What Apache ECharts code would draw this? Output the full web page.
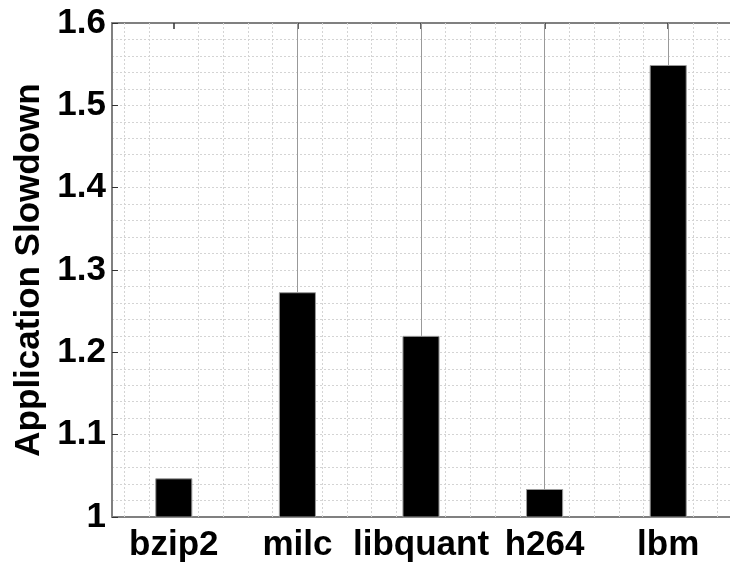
<!DOCTYPE html>
<html>
<head>
<meta charset="utf-8">
<script src="https://cdn.jsdelivr.net/npm/echarts@6/dist/echarts.min.js"></script>
<style>
html,body{margin:0;padding:0;background:#fff;}
#chart{width:730px;height:564px;}
</style>
</head>
<body>
<div id="chart"></div>
<script>
// ---- data ----
const categories = ['bzip2', 'milc', 'libquant', 'h264', 'lbm'];
const slowdown = [1.047, 1.273, 1.22, 1.034, 1.549];
const hasWhisker = [false, true, true, true, true];
const yTicks = [1, 1.1, 1.2, 1.3, 1.4, 1.5, 1.6];

const FONT = '"Liberation Sans", Arial, sans-serif';
const yMin = yTicks[0], yMax = yTicks[yTicks.length - 1];

// minor vertical grid positions (every 0.2 category units, excluding category centers)
const minorX = [];
for (let k = 3; k <= 27; k++) {
  if (k % 5 !== 0) minorX.push(k / 5);
}

const whiskers = [];
categories.forEach((c, i) => {
  if (hasWhisker[i]) {
    whiskers.push([{ coord: [c, slowdown[i]] }, { coord: [c, yMax] }]);
  }
});

const dotted = { color: '#d4d4d4', width: 1, type: [2, 2] };

const chart = echarts.init(document.getElementById('chart'), null, { renderer: 'canvas' });
chart.setOption({
  animation: false,
  backgroundColor: '#fff',
  grid: { left: 112, top: 23, width: 625, height: 494, containLabel: false },
  xAxis: [
    {
      type: 'category', data: categories, position: 'bottom',
      axisLine: { lineStyle: { color: '#808080', width: 2 } },
      axisTick: { show: true, inside: true, alignWithLabel: true, length: 6, lineStyle: { color: '#333' } },
      axisLabel: { color: '#000', fontFamily: FONT, fontWeight: 'bold', fontSize: 35, margin: 11, interval: 0, hideOverlap: false },
      splitLine: { show: false }
    },
    {
      type: 'category', data: categories, position: 'top',
      axisLine: { onZero: false, lineStyle: { color: '#808080', width: 2 } },
      axisTick: { show: true, inside: true, alignWithLabel: true, length: 6, lineStyle: { color: '#333', width: 1.5 } },
      axisLabel: { show: false },
      splitLine: { show: false }
    },
    {
      type: 'value', min: 0.5, max: 5.5, show: false
    }
  ],
  yAxis: {
    type: 'value', min: yMin, max: yMax, interval: 0.1,
    axisLine: { show: true, lineStyle: { color: '#808080', width: 2 } },
    axisTick: { show: true, inside: true, length: 6, lineStyle: { color: '#333' } },
    axisLabel: { color: '#000', fontFamily: FONT, fontWeight: 'bold', fontSize: 35, margin: 6,
      formatter: v => String(Math.round(v * 10) / 10) },
    splitLine: { show: true, lineStyle: dotted },
    minorTick: { show: false, splitNumber: 5 },
    minorSplitLine: { show: true, lineStyle: dotted },
    name: 'Application Slowdown', nameLocation: 'middle', nameRotate: 90, nameGap: 64,
    nameTextStyle: { color: '#000', fontFamily: FONT, fontWeight: 'bold', fontSize: 35 }
  },
  series: [
    {
      type: 'line', xAxisIndex: 2, data: [[0.5, yMin]], showSymbol: false, silent: true,
      lineStyle: { opacity: 0 }, z: 1,
      markLine: {
        silent: true, symbol: 'none', label: { show: false },
        lineStyle: dotted,
        data: minorX.map(x => ({ xAxis: x }))
      }
    },
    {
      type: 'bar', xAxisIndex: 0, data: slowdown, barWidth: '30%', z: 3,
      itemStyle: { color: '#000', borderColor: '#9a9a9a', borderWidth: 1 },
      markLine: {
        silent: true, symbol: 'none', label: { show: false },
        lineStyle: { color: '#999', width: 1, type: 'solid' },
        data: whiskers
      }
    }
  ]
});
</script>
</body>
</html>
